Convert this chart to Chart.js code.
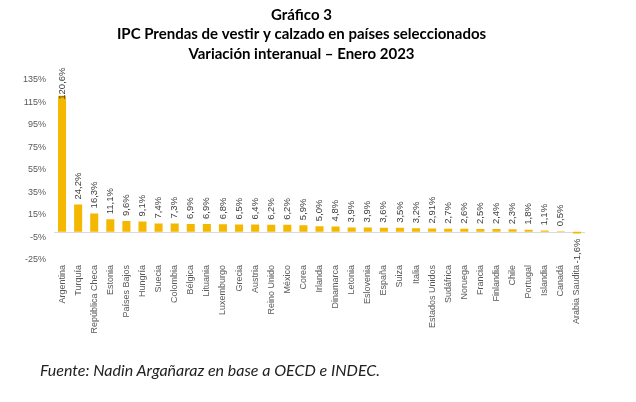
<!DOCTYPE html>
<html>
<head>
<meta charset="utf-8">
<script src="https://cdn.jsdelivr.net/npm/chart.js@4"></script>
<style>
  html, body { margin:0; padding:0; background:#fff; }
  #wrap { position:relative; width:636px; height:402px; }
  #footer { position:absolute; left:40px; top:360px; font:italic 16px Lato, 'Liberation Sans', sans-serif; color:#222; white-space:nowrap; }
</style>
</head>
<body>
<div id="wrap">
  <canvas id="ch-ipc" width="636" height="402"></canvas>
  <div id="footer">Fuente: Nadin Argañaraz en base a OECD e INDEC.</div>
</div>
<script>
// ====================== DATA ======================
const countries = ['Argentina','Turquía','República Checa','Estonia','Países Bajos','Hungría','Suecia','Colombia','Bélgica','Lituania',
  'Luxemburgo','Grecia','Austria','Reino Unido','México','Corea','Irlanda','Dinamarca','Letonia','Eslovenia',
  'España','Suiza','Italia','Estados Unidos','Sudáfrica','Noruega','Francia','Finlandia','Chile','Portugal',
  'Islandia','Canadá','Arabia Saudita'];
const variation = [120.6, 24.2, 16.3, 11.1, 9.6, 9.1, 7.4, 7.3, 6.9, 6.9,
  6.8, 6.5, 6.4, 6.2, 6.2, 5.9, 5.0, 4.8, 3.9, 3.9,
  3.6, 3.5, 3.2, 2.91, 2.7, 2.6, 2.5, 2.4, 2.3, 1.8,
  1.1, 0.5, -1.6];
const titleLines = ['Gráfico 3', 'IPC Prendas de vestir y calzado en países seleccionados', 'Variación interanual – Enero 2023'];
const yMin = -25, yMax = 135, yStep = 20;

const fmtPct = v => {
  const dec = Math.max(1, (String(v).split('.')[1] || '').length);
  return v.toFixed(dec).replace('.', ',') + '%';
};

// zero line + rotated value labels
const zeroLine = {
  id: 'zeroLine',
  beforeDatasetsDraw(chart) {
    const { ctx, chartArea, scales } = chart;
    const y = Math.round(scales.y.getPixelForValue(0)) + 0.5;
    ctx.save();
    ctx.strokeStyle = '#d9d9d9';
    ctx.lineWidth = 1;
    ctx.beginPath(); ctx.moveTo(chartArea.left, y); ctx.lineTo(chartArea.right, y); ctx.stroke();
    ctx.restore();
  }
};

const valueLabels = {
  id: 'valueLabels',
  afterDatasetsDraw(chart) {
    const { ctx, chartArea } = chart;
    const meta = chart.getDatasetMeta(0);
    ctx.save();
    ctx.font = "9.5px 'Liberation Sans', Arial, sans-serif";
    ctx.fillStyle = '#404040';
    ctx.textBaseline = 'middle';
    meta.data.forEach((bar, i) => {
      const v = variation[i];
      const txt = fmtPct(v);
      const w = ctx.measureText(txt).width;
      ctx.save();
      if (v >= 0) {
        let start = bar.y - 5;
        if (start - w < chartArea.top - 12) start = chartArea.top - 12 + w;
        ctx.translate(bar.x, start);
        ctx.rotate(-Math.PI / 2);
        ctx.textAlign = 'left';
      } else {
        ctx.translate(bar.x, bar.y + 5);
        ctx.rotate(-Math.PI / 2);
        ctx.textAlign = 'right';
      }
      ctx.fillText(txt, 0, 0);
      ctx.restore();
    });
    ctx.restore();
  }
};

new Chart(document.getElementById('ch-ipc'), {
  type: 'bar',
  data: {
    labels: countries,
    datasets: [{ label: 'IPC Prendas de vestir y calzado', data: variation, backgroundColor: '#F5B800', barPercentage: 0.5, categoryPercentage: 1 }]
  },
  options: {
    responsive: false,
    animation: false,
    layout: { padding: { left: 18, right: 51, top: 0, bottom: 66 } },
    plugins: {
      legend: { display: false },
      tooltip: { enabled: false },
      title: {
        display: true,
        text: titleLines,
        color: '#000',
        font: { family: "Lato, 'Liberation Sans', sans-serif", size: 15, weight: 'bold', lineHeight: 1.3 },
        padding: { top: 5, bottom: 16 }
      }
    },
    scales: {
      x: {
        grid: { display: false, drawTicks: false },
        border: { display: false },
        afterFit: s => { s.height = 76; },
        ticks: {
          autoSkip: false, minRotation: 90, maxRotation: 90, padding: 5,
          color: '#595959', font: { family: "'Liberation Sans', Arial, sans-serif", size: 9 }
        }
      },
      y: {
        min: yMin, max: yMax,
        grid: { display: false, drawTicks: false },
        border: { display: false },
        afterFit: s => { s.width = 36; },
        ticks: {
          stepSize: yStep, padding: 8,
          color: '#595959', font: { family: "'Liberation Sans', Arial, sans-serif", size: 9 },
          callback: v => v + '%'
        }
      }
    }
  },
  plugins: [zeroLine, valueLabels]
});
</script>
</body>
</html>
